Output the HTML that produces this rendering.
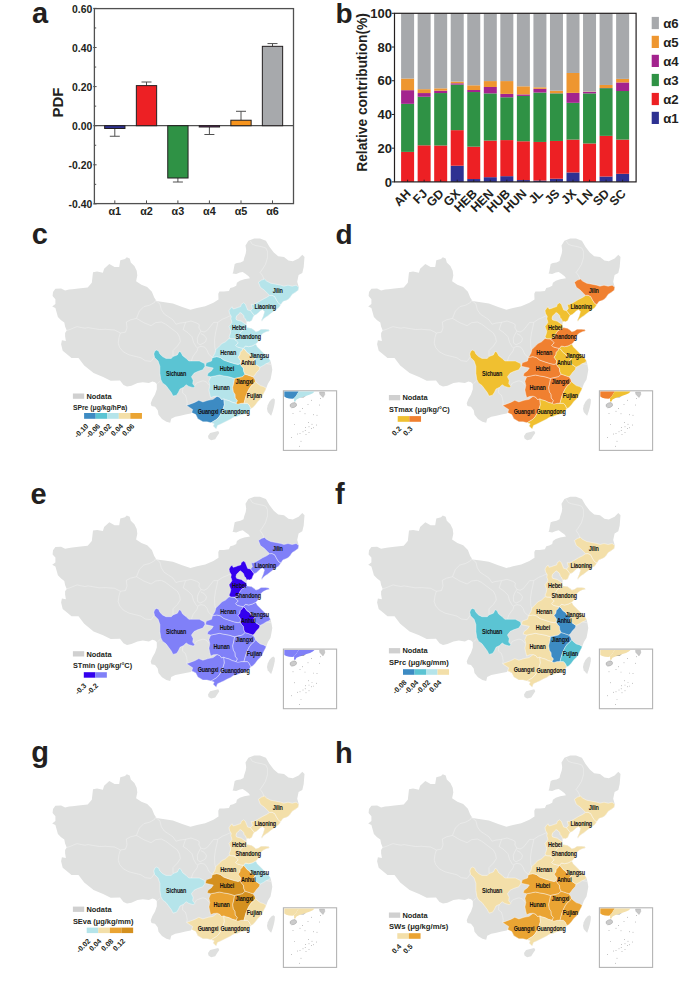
<!DOCTYPE html><html><head><meta charset="utf-8"><style>html,body{margin:0;padding:0;background:#fff;overflow:hidden;width:685px;height:997px;}svg{display:block;font-family:"Liberation Sans", sans-serif;}</style></head><body>
<svg width="685" height="997" viewBox="0 0 685 997">
<rect width="685" height="997" fill="#fff"/>
<defs>
<g id="base">
<path d="M52.6,296.1 L53.0,292.0 L55.4,288.8 L61.1,288.4 L65.1,290.4 L69.1,289.6 L72.3,289.2 L78.4,288.5 L87.7,287.4 L91.8,282.7 L93.0,272.2 L97.1,271.6 L102.9,272.8 L104.1,268.7 L109.3,264.0 L114.6,266.9 L119.2,266.9 L120.3,260.2 L125.0,259.0 L126.8,257.3 L129.7,258.4 L130.8,262.5 L134.4,266.0 L136.7,270.7 L137.3,275.4 L136.1,281.2 L141.4,284.7 L147.2,287.0 L151.9,291.7 L154.2,297.6 L156.5,301.1 L164.7,302.2 L172.9,303.4 L182.2,306.9 L190.4,309.8 L197.0,308.0 L205.2,306.2 L213.4,302.7 L218.5,299.5 L218.3,293.8 L219.4,291.6 L223.8,291.6 L228.9,290.9 L230.3,288.0 L233.2,287.2 L236.2,285.8 L236.9,282.8 L239.8,280.7 L244.2,279.2 L250.0,278.3 L248.6,276.3 L245.7,274.1 L242.7,271.9 L239.8,272.6 L236.2,274.1 L232.5,273.4 L233.2,271.9 L234.0,267.5 L234.7,263.9 L236.9,263.1 L240.5,262.4 L243.5,261.0 L244.2,258.0 L245.7,253.6 L246.2,250.2 L245.5,245.5 L248.4,240.8 L254.2,238.5 L260.0,238.5 L265.9,240.8 L269.4,246.7 L273.8,252.5 L278.2,256.2 L284.0,256.9 L288.4,260.5 L292.8,261.3 L298.6,258.4 L302.3,254.7 L304.5,256.9 L303.7,267.1 L302.3,273.0 L298.6,275.1 L297.2,281.7 L298.8,287.3 L298.2,290.3 L295.2,292.4 L292.1,294.4 L290.1,297.5 L288.0,299.5 L286.0,300.5 L282.9,301.6 L280.9,304.6 L278.8,307.7 L275.8,309.7 L271.7,312.8 L267.6,315.9 L264.5,317.9 L262.5,320.0 L262.0,321.5 L261.5,320.0 L263.2,316.0 L264.5,311.5 L262.5,309.7 L260.4,310.8 L258.4,312.8 L256.2,314.6 L254.1,315.4 L252.9,317.7 L251.8,320.6 L249.4,321.8 L247.7,321.2 L246.5,322.4 L246.5,325.9 L247.1,327.6 L251.4,328.3 L254.0,330.0 L255.8,331.8 L258.4,330.9 L261.0,329.2 L265.4,329.2 L268.9,329.6 L269.4,330.9 L266.3,331.8 L262.8,333.5 L260.2,336.2 L259.3,339.7 L257.5,342.3 L255.8,344.0 L257.4,346.9 L260.0,349.5 L262.7,352.2 L266.2,355.7 L268.8,358.3 L270.5,360.9 L271.4,364.5 L272.3,369.8 L271.4,375.0 L270.5,379.4 L267.9,383.8 L266.2,388.2 L265.5,390.0 L264.0,392.8 L262.3,396.3 L260.5,398.9 L257.9,401.5 L255.3,405.0 L252.7,407.7 L250.9,408.5 L248.3,412.0 L245.7,413.8 L241.3,414.7 L236.9,416.4 L233.4,417.3 L230.8,419.1 L227.3,420.8 L223.8,422.6 L220.3,424.3 L217.5,425.5 L216.2,428.9 L215.2,427.9 L213.1,425.9 L214.2,423.8 L211.1,422.8 L207.0,421.8 L202.9,421.8 L197.8,418.7 L195.8,414.6 L191.7,412.6 L190.7,413.6 L185.5,414.6 L180.4,415.7 L175.3,416.7 L171.2,418.7 L170.2,422.8 L166.4,421.7 L162.0,419.0 L158.5,414.7 L157.7,410.3 L155.0,406.8 L151.5,405.9 L150.7,403.3 L152.4,398.9 L155.0,394.5 L156.8,389.3 L156.8,384.0 L155.0,382.3 L152.4,381.4 L148.9,383.1 L142.8,382.3 L137.5,383.1 L131.4,385.8 L127.0,386.6 L123.5,384.9 L120.0,380.5 L110.7,380.7 L103.1,376.9 L93.6,373.1 L84.2,365.5 L78.5,358.0 L71.5,357.9 L66.7,353.9 L62.7,350.7 L61.1,344.3 L61.9,340.2 L65.9,341.0 L65.1,336.2 L65.1,333.0 L66.7,330.6 L65.1,326.6 L64.3,322.6 L61.1,320.2 L57.9,316.9 L57.0,313.7 L55.4,308.1 L52.2,306.5 L55.4,304.1 L55.4,299.3Z" fill="#dfe0df"/>
<path d="M208.0,436.1 L210.1,433.0 L214.2,432.0 L218.2,431.0 L219.3,433.0 L217.2,436.1 L215.2,439.2 L211.1,440.2 L208.5,438.6Z" fill="#dfe0df"/>
<path d="M273.4,398.3 L274.9,399.6 L274.7,403.1 L273.8,407.5 L272.5,411.9 L271.2,415.8 L270.3,415.0 L267.7,411.9 L267.0,408.8 L267.7,405.3 L269.4,401.8 L271.6,399.2Z" fill="#dfe0df"/>
<path d="M66.5,330.5 L70.0,329.5 L73.1,328.2 L77.1,326.6 L81.0,327.5 L85.0,328.2 L88.0,327.6 L99.3,329.5 L105.8,329.3 L114.6,330.0 L120.4,333.0 L125.5,332.2 L127.0,327.8 L126.3,322.0 L130.7,319.8 L136.5,318.4 L139.4,311.1 L143.8,306.7 L149.6,305.2 L154.7,302.3 L155.5,300.5" fill="none" stroke="#f8f8f8" stroke-width="0.4" stroke-linejoin="round"/>
<path d="M120.4,333.0 L119.0,337.3 L118.2,343.2 L119.7,347.6 L123.4,351.9 L129.2,354.9 L135.0,356.3 L140.9,357.8 L145.3,360.7 L151.1,361.4 L154.7,356.3 L154.6,352.0" fill="none" stroke="#f8f8f8" stroke-width="0.4" stroke-linejoin="round"/>
<path d="M136.5,318.4 L143.8,322.7 L151.1,325.7 L155.5,322.7 L161.3,322.0 L165.7,324.2 L171.5,328.6 L177.4,333.0 L179.6,337.3 L180.3,341.7 L177.4,346.1 L173.0,350.5 L173.0,356.6" fill="none" stroke="#f8f8f8" stroke-width="0.4" stroke-linejoin="round"/>
<path d="M155.5,300.5 L159.9,303.8 L161.3,309.6 L164.2,314.0 L168.6,316.9 L173.0,319.8 L175.9,324.2 L180.0,323.1 L185.6,322.3 L183.2,329.5 L188.0,332.8 L192.0,336.8 L193.6,342.4 L196.0,346.5 L197.7,348.2 L197.1,350.9 L195.1,353.5 L193.1,356.2 L192.0,359.0 L191.5,361.0" fill="none" stroke="#f8f8f8" stroke-width="0.4" stroke-linejoin="round"/>
<path d="M185.6,322.3 L191.0,321.0 L196.9,323.1 L199.3,324.7 L198.9,327.9 L200.9,331.1 L204.1,332.0 L207.3,330.3 L210.5,326.3 L213.7,322.3 L217.8,322.3 L222.6,319.1 L226.6,317.5 L229.8,315.9 L231.3,316.0" fill="none" stroke="#f8f8f8" stroke-width="0.4" stroke-linejoin="round"/>
<path d="M200.9,331.1 L198.5,335.2 L197.3,338.4 L197.7,343.2 L200.1,344.8 L203.3,343.2 L205.7,341.6 L206.5,338.4 L204.1,335.2 L200.9,333.6" fill="none" stroke="#f8f8f8" stroke-width="0.4" stroke-linejoin="round"/>
<path d="M217.8,322.3 L216.9,327.0 L215.5,333.0 L214.5,340.0 L214.8,347.0 L215.5,350.0" fill="none" stroke="#f8f8f8" stroke-width="0.4" stroke-linejoin="round"/>
<path d="M197.7,347.6 L201.0,346.3 L204.6,347.1 L207.0,350.0 L208.5,354.0 L212.4,357.5" fill="none" stroke="#f8f8f8" stroke-width="0.4" stroke-linejoin="round"/>
<path d="M195.0,385.5 L196.4,383.1 L199.7,381.8 L203.0,380.8 L206.3,381.8 L208.3,384.4 L209.5,385.5" fill="none" stroke="#f8f8f8" stroke-width="0.4" stroke-linejoin="round"/>
<path d="M183.5,387.3 L182.6,389.7 L182.6,393.0 L185.3,395.0 L186.6,398.9 L187.2,402.8 L186.6,405.4" fill="none" stroke="#f8f8f8" stroke-width="0.4" stroke-linejoin="round"/>
<path d="M160.3,381.0 L157.5,383.5" fill="none" stroke="#f8f8f8" stroke-width="0.4" stroke-linejoin="round"/>
<path d="M250.3,240.9 L252.2,244.2 L255.5,245.5 L262.1,246.8 L266.0,248.1 L267.4,251.4 L267.4,258.0 L265.4,264.5 L262.1,269.8 L260.1,272.4 L262.1,275.0 L263.4,277.7 L263.6,280.3" fill="none" stroke="#f8f8f8" stroke-width="0.4" stroke-linejoin="round"/>
<path d="M266.2,363.6 L268.5,364.0 L271.4,364.5" fill="none" stroke="#f8f8f8" stroke-width="0.4" stroke-linejoin="round"/>
</g>
<path id="p_Jilin" d="M258.4,282.2 L261.5,280.1 L264.5,279.1 L266.6,281.1 L270.7,283.2 L275.8,284.2 L280.9,285.2 L283.9,286.2 L288.0,285.2 L292.1,286.2 L296.2,285.2 L298.8,287.3 L298.2,290.3 L295.2,292.4 L292.1,294.4 L290.1,297.5 L288.0,299.5 L286.0,300.5 L282.9,301.6 L280.9,304.6 L278.8,303.5 L276.8,300.5 L274.7,296.5 L272.0,295.2 L269.6,295.4 L267.6,293.4 L264.5,290.3 L260.4,287.3Z"/>
<path id="p_Liaoning" d="M269.6,295.4 L272.0,295.2 L274.7,296.5 L276.8,300.5 L278.8,303.5 L280.9,304.6 L278.8,307.7 L275.8,309.7 L271.7,312.8 L267.6,315.9 L264.5,317.9 L262.5,320.0 L262.0,321.5 L261.5,320.0 L263.2,316.0 L264.5,311.5 L262.5,309.7 L260.4,310.8 L258.4,312.8 L256.2,314.6 L254.1,315.4 L252.4,313.1 L250.6,310.7 L252.4,308.4 L251.2,304.3 L253.3,304.6 L257.4,302.6 L262.5,299.5 L266.6,297.5Z"/>
<path id="p_Hebei" d="M229.0,310.7 L230.8,307.8 L232.2,306.9 L233.1,309.0 L235.4,308.4 L237.8,307.5 L240.7,306.6 L241.3,304.3 L243.6,302.8 L245.4,304.3 L246.5,307.2 L247.7,310.1 L250.6,310.7 L252.4,313.1 L254.1,315.4 L252.9,317.7 L251.8,320.6 L249.4,321.8 L247.7,321.2 L246.5,322.4 L246.5,325.9 L247.1,327.6 L244.2,329.4 L241.9,330.6 L240.1,332.9 L238.9,335.8 L237.2,337.6 L234.8,338.7 L230.8,338.7 L229.0,337.0 L230.2,334.1 L230.8,331.2 L229.6,328.2 L229.0,326.5 L230.8,324.1 L231.9,322.4 L231.3,320.0 L230.8,318.9 L231.3,316.5 L229.6,313.6Z"/>
<path id="p_BJTJ" d="M236.6,316.0 L238.4,314.2 L240.1,312.5 L241.9,313.6 L243.6,315.4 L244.2,317.7 L245.4,318.9 L246.5,321.2 L246.8,324.7 L245.4,324.1 L243.0,322.4 L241.3,321.2 L238.9,320.6 L236.6,320.0 L236.0,318.3Z"/>
<path id="p_Shandong" d="M247.1,327.6 L251.4,328.3 L254.0,330.0 L255.8,331.8 L258.4,330.9 L261.0,329.2 L265.4,329.2 L268.9,329.6 L269.4,330.9 L266.3,331.8 L262.8,333.5 L260.2,336.2 L259.3,339.7 L257.5,342.3 L255.8,344.0 L252.3,345.8 L248.8,346.7 L245.3,346.0 L243.4,348.4 L240.5,347.8 L237.4,347.0 L235.7,345.3 L238.3,342.7 L236.5,341.0 L234.5,339.0 L234.8,338.7 L237.2,337.6 L238.9,335.8 L240.1,332.9 L241.9,330.6 L244.2,329.4Z"/>
<path id="p_Henan" d="M234.5,339.0 L236.5,341.0 L238.3,342.7 L235.7,345.3 L237.4,347.0 L240.5,347.8 L243.4,348.4 L242.1,350.5 L240.3,352.3 L239.9,354.9 L238.1,357.1 L239.0,358.4 L240.8,361.0 L240.3,363.6 L238.1,364.4 L234.3,363.6 L229.0,361.9 L223.8,360.1 L220.3,357.5 L216.8,356.6 L212.4,357.5 L215.0,353.1 L215.9,349.6 L219.4,346.1 L222.0,343.5 L225.5,341.8 L229.0,338.5 L230.8,338.7Z"/>
<path id="p_Jiangsu" d="M243.4,348.4 L245.3,346.0 L248.8,346.7 L252.3,345.8 L255.8,344.0 L257.4,346.9 L260.0,349.5 L262.7,352.2 L266.2,355.7 L268.8,358.3 L270.5,360.9 L268.8,362.7 L266.2,363.6 L263.5,365.4 L260.0,367.2 L257.4,365.4 L254.8,363.6 L253.9,360.1 L255.7,358.4 L253.9,357.5 L251.3,356.6 L249.5,354.0 L246.9,352.3 L245.1,349.6Z"/>
<path id="p_Anhui" d="M243.4,348.4 L245.1,349.6 L246.9,352.3 L249.5,354.0 L251.3,356.6 L253.9,357.5 L255.7,358.4 L253.9,360.1 L254.8,363.6 L257.4,365.4 L260.0,367.2 L259.2,369.8 L256.5,372.4 L254.8,375.0 L253.0,376.8 L250.4,375.9 L247.8,375.0 L245.1,374.2 L243.8,371.5 L243.4,368.0 L241.6,366.3 L240.3,363.6 L240.8,361.0 L239.0,358.4 L238.1,357.1 L239.9,354.9 L240.3,352.3 L242.1,350.5Z"/>
<path id="p_Hubei" d="M212.4,357.5 L216.8,356.6 L220.3,357.5 L223.8,360.1 L229.0,361.9 L234.3,363.6 L238.1,364.4 L240.3,363.6 L241.6,366.3 L243.4,368.0 L243.8,371.5 L245.1,374.2 L242.5,376.8 L238.1,377.7 L234.6,378.5 L229.0,376.8 L223.8,375.9 L219.4,375.0 L215.0,375.9 L210.7,376.8 L207.2,375.9 L208.0,373.3 L211.5,370.7 L213.3,368.0 L205.4,366.3 L206.3,362.8 L211.5,361.0Z"/>
<path id="p_Jiangxi" d="M234.6,378.5 L238.1,377.7 L242.5,376.8 L245.1,374.2 L247.8,375.0 L250.4,375.9 L253.0,376.8 L254.8,379.4 L255.5,381.5 L253.9,383.8 L251.5,385.6 L249.4,388.5 L247.6,392.0 L246.0,396.0 L245.0,399.5 L244.0,403.3 L241.3,403.3 L237.8,404.2 L236.0,403.3 L237.5,400.7 L235.3,398.0 L235.1,394.5 L233.4,391.9 L232.7,387.5 L233.8,383.0Z"/>
<path id="p_Fujian" d="M255.5,381.5 L257.2,383.2 L260.2,385.6 L263.5,386.6 L266.2,388.2 L265.5,390.0 L264.0,392.8 L262.3,396.3 L260.5,398.9 L257.9,401.5 L255.3,405.0 L252.7,407.7 L250.9,408.5 L249.2,405.0 L247.4,403.3 L244.0,403.3 L245.0,399.5 L246.0,396.0 L247.6,392.0 L249.4,388.5 L251.5,385.6 L253.9,383.8Z"/>
<path id="p_Hunan" d="M210.7,376.8 L215.0,375.9 L219.4,375.0 L223.8,375.9 L229.0,376.8 L234.6,378.5 L233.8,383.0 L232.7,387.5 L233.4,391.9 L235.1,394.5 L235.3,398.0 L237.5,400.7 L236.0,403.3 L232.5,402.4 L229.0,400.7 L225.5,399.8 L223.8,398.9 L221.5,399.5 L219.8,397.3 L217.2,396.2 L213.5,396.5 L210.7,397.8 L209.8,394.3 L208.9,389.9 L209.8,385.5 L208.9,381.2Z"/>
<path id="p_Guangxi" d="M186.6,405.4 L190.7,403.9 L194.7,402.4 L198.8,400.3 L202.9,401.9 L208.0,400.3 L213.1,399.3 L217.2,396.2 L219.8,397.3 L221.5,399.5 L223.8,398.9 L224.4,404.7 L222.2,411.8 L219.0,417.0 L216.2,419.7 L211.1,422.8 L207.0,421.8 L202.9,421.8 L197.8,418.7 L195.8,414.6 L191.7,412.6 L192.7,409.5 L189.6,407.5Z"/>
<path id="p_Guangdong" d="M236.0,403.3 L244.0,403.3 L247.4,403.3 L249.2,405.0 L250.9,408.5 L248.3,412.0 L245.7,413.8 L241.3,414.7 L236.9,416.4 L233.4,417.3 L230.8,419.1 L227.3,420.8 L223.8,422.6 L220.3,424.3 L217.5,425.5 L216.2,428.9 L215.2,427.9 L213.1,425.9 L214.2,423.8 L211.1,422.8 L216.2,419.7 L219.0,417.0 L222.2,411.8 L224.4,404.7 L223.8,398.9 L225.5,399.8 L229.0,400.7 L232.5,402.4Z"/>
<path id="p_Sichuan" d="M154.6,351.4 L156.4,350.1 L158.6,351.0 L159.9,354.0 L162.5,356.6 L166.0,358.4 L171.3,358.4 L173.0,356.6 L177.4,354.9 L179.2,351.4 L180.9,352.3 L182.7,355.8 L186.2,358.4 L188.8,361.0 L194.0,361.0 L199.3,361.0 L204.6,363.6 L205.0,366.3 L202.8,369.8 L197.6,371.5 L194.0,373.3 L191.4,376.8 L193.2,380.3 L192.7,383.8 L194.9,386.4 L193.2,387.7 L188.8,386.4 L186.2,384.7 L183.5,387.3 L180.0,389.0 L178.3,392.6 L176.5,395.2 L173.0,396.1 L171.3,392.6 L168.6,389.0 L166.0,385.5 L162.5,382.9 L160.8,379.4 L159.9,373.3 L159.9,366.3 L158.1,361.0 L154.6,357.5 L153.8,354.0Z"/>
<g id="insetbase">
<rect x="283.4" y="390.8" width="53.2" height="59.6" fill="#fff" stroke="#b4b4b4" stroke-width="1.1"/>
<ellipse cx="293.3" cy="405.2" rx="3.4" ry="2.4" transform="rotate(-20 293.3 405.2)" fill="#cbcbcb" stroke="#999" stroke-width="0.4"/>
<path d="M319.5,392 L324.5,392 L324.8,394.5 L323,397.6 L321.5,396 L319.8,394.2Z" fill="#c8c8c8" stroke="#999" stroke-width="0.3"/>
<circle cx="311.5" cy="400.2" r="0.45" fill="#888"/>
<circle cx="308" cy="404.5" r="0.45" fill="#888"/>
<circle cx="302.6" cy="408.5" r="0.45" fill="#888"/>
<circle cx="300" cy="411.2" r="0.45" fill="#888"/>
<circle cx="305" cy="413.8" r="0.45" fill="#888"/>
<circle cx="293" cy="413.5" r="0.45" fill="#888"/>
<circle cx="317" cy="415.2" r="0.45" fill="#888"/>
<circle cx="313.5" cy="414.8" r="0.45" fill="#888"/>
<circle cx="294.5" cy="424.4" r="0.45" fill="#888"/>
<circle cx="305.5" cy="427.5" r="0.45" fill="#888"/>
<circle cx="309" cy="426.8" r="0.45" fill="#888"/>
<circle cx="311.5" cy="428.5" r="0.45" fill="#888"/>
<circle cx="313.5" cy="427.8" r="0.45" fill="#888"/>
<circle cx="316.5" cy="425" r="0.45" fill="#888"/>
<circle cx="303" cy="431.7" r="0.45" fill="#888"/>
<circle cx="300" cy="433.5" r="0.45" fill="#888"/>
<circle cx="306" cy="434.5" r="0.45" fill="#888"/>
<circle cx="297.5" cy="434" r="0.45" fill="#888"/>
<circle cx="309" cy="432.5" r="0.45" fill="#888"/>
<circle cx="291.5" cy="437.5" r="0.45" fill="#888"/>
<circle cx="301" cy="441.3" r="0.45" fill="#888"/>
<circle cx="299.5" cy="446.2" r="0.45" fill="#888"/>
<circle cx="319.5" cy="405" r="0.45" fill="#888"/>
<circle cx="320.5" cy="398.5" r="0.45" fill="#888"/>
<circle cx="308.5" cy="422.5" r="0.45" fill="#888"/>
<circle cx="305.2" cy="430.5" r="0.45" fill="#888"/>
<circle cx="312" cy="424.3" r="0.45" fill="#888"/>
</g>
</defs>
<rect x="94.4" y="8.6" width="199.1" height="195.0" fill="none" stroke="#505050" stroke-width="1.3"/>
<line x1="94.4" y1="125.7" x2="293.5" y2="125.7" stroke="#505050" stroke-width="1.2"/>
<line x1="93.2" y1="203.90" x2="96.60000000000001" y2="203.90" stroke="#505050" stroke-width="1"/>
<line x1="94.4" y1="184.35" x2="96.2" y2="184.35" stroke="#505050" stroke-width="1"/>
<line x1="93.2" y1="164.80" x2="96.60000000000001" y2="164.80" stroke="#505050" stroke-width="1"/>
<line x1="94.4" y1="145.25" x2="96.2" y2="145.25" stroke="#505050" stroke-width="1"/>
<line x1="93.2" y1="125.70" x2="96.60000000000001" y2="125.70" stroke="#505050" stroke-width="1"/>
<line x1="94.4" y1="106.15" x2="96.2" y2="106.15" stroke="#505050" stroke-width="1"/>
<line x1="93.2" y1="86.60" x2="96.60000000000001" y2="86.60" stroke="#505050" stroke-width="1"/>
<line x1="94.4" y1="67.05" x2="96.2" y2="67.05" stroke="#505050" stroke-width="1"/>
<line x1="93.2" y1="47.50" x2="96.60000000000001" y2="47.50" stroke="#505050" stroke-width="1"/>
<line x1="94.4" y1="27.95" x2="96.2" y2="27.95" stroke="#505050" stroke-width="1"/>
<line x1="93.2" y1="8.40" x2="96.60000000000001" y2="8.40" stroke="#505050" stroke-width="1"/>
<text x="92.3" y="208.20" font-size="10.4" font-weight="bold" text-anchor="end" fill="#231f20">-0.40</text>
<text x="92.3" y="169.10" font-size="10.4" font-weight="bold" text-anchor="end" fill="#231f20">-0.20</text>
<text x="92.3" y="130.00" font-size="10.4" font-weight="bold" text-anchor="end" fill="#231f20">0.00</text>
<text x="92.3" y="90.90" font-size="10.4" font-weight="bold" text-anchor="end" fill="#231f20">0.20</text>
<text x="92.3" y="51.80" font-size="10.4" font-weight="bold" text-anchor="end" fill="#231f20">0.40</text>
<text x="92.3" y="12.70" font-size="10.4" font-weight="bold" text-anchor="end" fill="#231f20">0.60</text>
<line x1="114.8" y1="203.6" x2="114.8" y2="200.4" stroke="#505050" stroke-width="1"/>
<text x="114.8" y="215.1" font-size="10.8" font-weight="bold" text-anchor="middle" fill="#231f20">α1</text>
<line x1="146.5" y1="203.6" x2="146.5" y2="200.4" stroke="#505050" stroke-width="1"/>
<text x="146.5" y="215.1" font-size="10.8" font-weight="bold" text-anchor="middle" fill="#231f20">α2</text>
<line x1="177.9" y1="203.6" x2="177.9" y2="200.4" stroke="#505050" stroke-width="1"/>
<text x="177.9" y="215.1" font-size="10.8" font-weight="bold" text-anchor="middle" fill="#231f20">α3</text>
<line x1="209.4" y1="203.6" x2="209.4" y2="200.4" stroke="#505050" stroke-width="1"/>
<text x="209.4" y="215.1" font-size="10.8" font-weight="bold" text-anchor="middle" fill="#231f20">α4</text>
<line x1="241.0" y1="203.6" x2="241.0" y2="200.4" stroke="#505050" stroke-width="1"/>
<text x="241.0" y="215.1" font-size="10.8" font-weight="bold" text-anchor="middle" fill="#231f20">α5</text>
<line x1="272.5" y1="203.6" x2="272.5" y2="200.4" stroke="#505050" stroke-width="1"/>
<text x="272.5" y="215.1" font-size="10.8" font-weight="bold" text-anchor="middle" fill="#231f20">α6</text>
<line x1="114.8" y1="128.50" x2="114.8" y2="136.26" stroke="#505050" stroke-width="1"/>
<line x1="109.8" y1="136.26" x2="119.8" y2="136.26" stroke="#505050" stroke-width="1"/>
<rect x="104.65" y="125.70" width="20.3" height="2.80" fill="#2e3192" stroke="#231f20" stroke-width="1"/>
<line x1="146.5" y1="85.62" x2="146.5" y2="82.01" stroke="#505050" stroke-width="1"/>
<line x1="141.5" y1="82.01" x2="151.5" y2="82.01" stroke="#505050" stroke-width="1"/>
<rect x="136.35" y="85.62" width="20.3" height="40.08" fill="#ed2024" stroke="#231f20" stroke-width="1"/>
<line x1="177.9" y1="178.00" x2="177.9" y2="182.00" stroke="#505050" stroke-width="1"/>
<line x1="172.9" y1="182.00" x2="182.9" y2="182.00" stroke="#505050" stroke-width="1"/>
<rect x="167.75" y="125.70" width="20.3" height="52.30" fill="#2f9245" stroke="#231f20" stroke-width="1"/>
<line x1="209.4" y1="126.99" x2="209.4" y2="134.50" stroke="#505050" stroke-width="1"/>
<line x1="204.4" y1="134.50" x2="214.4" y2="134.50" stroke="#505050" stroke-width="1"/>
<rect x="199.25" y="125.70" width="20.3" height="1.29" fill="#7c2a84" stroke="#231f20" stroke-width="1"/>
<line x1="241.0" y1="120.23" x2="241.0" y2="111.29" stroke="#505050" stroke-width="1"/>
<line x1="236.0" y1="111.29" x2="246.0" y2="111.29" stroke="#505050" stroke-width="1"/>
<rect x="230.85" y="120.23" width="20.3" height="5.47" fill="#f7941d" stroke="#231f20" stroke-width="1"/>
<line x1="272.5" y1="46.33" x2="272.5" y2="43.59" stroke="#505050" stroke-width="1"/>
<line x1="267.5" y1="43.59" x2="277.5" y2="43.59" stroke="#505050" stroke-width="1"/>
<rect x="262.35" y="46.33" width="20.3" height="79.37" fill="#a7a9ac" stroke="#231f20" stroke-width="1"/>
<text transform="translate(63.2,102.5) rotate(-90)" font-size="15" font-weight="bold" text-anchor="middle" fill="#231f20">PDF</text>
<text x="32.0" y="23.3" font-size="29" font-weight="bold" fill="#231f20">a</text>
<rect x="401.10" y="151.89" width="13.0" height="30.01" fill="#ed2024"/>
<rect x="401.10" y="103.84" width="13.0" height="48.05" fill="#2f9245"/>
<rect x="401.10" y="90.18" width="13.0" height="13.66" fill="#a3238e"/>
<rect x="401.10" y="78.55" width="13.0" height="11.63" fill="#ee9630"/>
<rect x="401.10" y="13.30" width="13.0" height="65.25" fill="#a7a9ac"/>
<line x1="407.60" y1="181.9" x2="407.60" y2="179.70000000000002" stroke="#231f20" stroke-width="0.9"/>
<text transform="translate(411.60,194.3) rotate(-45)" font-size="12.4" font-weight="bold" text-anchor="end" fill="#231f20">AH</text>
<rect x="417.64" y="145.31" width="13.0" height="36.59" fill="#ed2024"/>
<rect x="417.64" y="96.76" width="13.0" height="48.56" fill="#2f9245"/>
<rect x="417.64" y="93.05" width="13.0" height="3.71" fill="#a3238e"/>
<rect x="417.64" y="89.17" width="13.0" height="3.88" fill="#ee9630"/>
<rect x="417.64" y="13.30" width="13.0" height="75.87" fill="#a7a9ac"/>
<line x1="424.14" y1="181.9" x2="424.14" y2="179.70000000000002" stroke="#231f20" stroke-width="0.9"/>
<text transform="translate(428.14,194.3) rotate(-45)" font-size="12.4" font-weight="bold" text-anchor="end" fill="#231f20">FJ</text>
<rect x="434.18" y="145.48" width="13.0" height="36.42" fill="#ed2024"/>
<rect x="434.18" y="93.05" width="13.0" height="52.43" fill="#2f9245"/>
<rect x="434.18" y="90.69" width="13.0" height="2.36" fill="#a3238e"/>
<rect x="434.18" y="88.33" width="13.0" height="2.36" fill="#ee9630"/>
<rect x="434.18" y="13.30" width="13.0" height="75.03" fill="#a7a9ac"/>
<line x1="440.68" y1="181.9" x2="440.68" y2="179.70000000000002" stroke="#231f20" stroke-width="0.9"/>
<text transform="translate(444.68,194.3) rotate(-45)" font-size="12.4" font-weight="bold" text-anchor="end" fill="#231f20">GD</text>
<rect x="450.72" y="165.71" width="13.0" height="16.19" fill="#2e3192"/>
<rect x="450.72" y="130.14" width="13.0" height="35.57" fill="#ed2024"/>
<rect x="450.72" y="84.62" width="13.0" height="45.52" fill="#2f9245"/>
<rect x="450.72" y="83.27" width="13.0" height="1.35" fill="#a3238e"/>
<rect x="450.72" y="81.58" width="13.0" height="1.69" fill="#ee9630"/>
<rect x="450.72" y="13.30" width="13.0" height="68.28" fill="#a7a9ac"/>
<line x1="457.22" y1="181.9" x2="457.22" y2="179.70000000000002" stroke="#231f20" stroke-width="0.9"/>
<text transform="translate(461.22,194.3) rotate(-45)" font-size="12.4" font-weight="bold" text-anchor="end" fill="#231f20">GX</text>
<rect x="467.26" y="179.03" width="13.0" height="2.87" fill="#2e3192"/>
<rect x="467.26" y="146.66" width="13.0" height="32.37" fill="#ed2024"/>
<rect x="467.26" y="92.04" width="13.0" height="54.63" fill="#2f9245"/>
<rect x="467.26" y="90.01" width="13.0" height="2.02" fill="#a3238e"/>
<rect x="467.26" y="85.29" width="13.0" height="4.72" fill="#ee9630"/>
<rect x="467.26" y="13.30" width="13.0" height="71.99" fill="#a7a9ac"/>
<line x1="473.76" y1="181.9" x2="473.76" y2="179.70000000000002" stroke="#231f20" stroke-width="0.9"/>
<text transform="translate(477.76,194.3) rotate(-45)" font-size="12.4" font-weight="bold" text-anchor="end" fill="#231f20">HEB</text>
<rect x="483.80" y="177.18" width="13.0" height="4.72" fill="#2e3192"/>
<rect x="483.80" y="140.59" width="13.0" height="36.59" fill="#ed2024"/>
<rect x="483.80" y="93.39" width="13.0" height="47.21" fill="#2f9245"/>
<rect x="483.80" y="86.98" width="13.0" height="6.41" fill="#a3238e"/>
<rect x="483.80" y="81.08" width="13.0" height="5.90" fill="#ee9630"/>
<rect x="483.80" y="13.30" width="13.0" height="67.78" fill="#a7a9ac"/>
<line x1="490.30" y1="181.9" x2="490.30" y2="179.70000000000002" stroke="#231f20" stroke-width="0.9"/>
<text transform="translate(494.30,194.3) rotate(-45)" font-size="12.4" font-weight="bold" text-anchor="end" fill="#231f20">HEN</text>
<rect x="500.34" y="176.17" width="13.0" height="5.73" fill="#2e3192"/>
<rect x="500.34" y="140.09" width="13.0" height="36.08" fill="#ed2024"/>
<rect x="500.34" y="97.26" width="13.0" height="42.82" fill="#2f9245"/>
<rect x="500.34" y="93.89" width="13.0" height="3.37" fill="#a3238e"/>
<rect x="500.34" y="81.08" width="13.0" height="12.81" fill="#ee9630"/>
<rect x="500.34" y="13.30" width="13.0" height="67.78" fill="#a7a9ac"/>
<line x1="506.84" y1="181.9" x2="506.84" y2="179.70000000000002" stroke="#231f20" stroke-width="0.9"/>
<text transform="translate(510.84,194.3) rotate(-45)" font-size="12.4" font-weight="bold" text-anchor="end" fill="#231f20">HUB</text>
<rect x="516.88" y="180.05" width="13.0" height="1.85" fill="#2e3192"/>
<rect x="516.88" y="141.27" width="13.0" height="38.78" fill="#ed2024"/>
<rect x="516.88" y="95.91" width="13.0" height="45.35" fill="#2f9245"/>
<rect x="516.88" y="94.40" width="13.0" height="1.52" fill="#a3238e"/>
<rect x="516.88" y="86.30" width="13.0" height="8.09" fill="#ee9630"/>
<rect x="516.88" y="13.30" width="13.0" height="73.00" fill="#a7a9ac"/>
<line x1="523.38" y1="181.9" x2="523.38" y2="179.70000000000002" stroke="#231f20" stroke-width="0.9"/>
<text transform="translate(527.38,194.3) rotate(-45)" font-size="12.4" font-weight="bold" text-anchor="end" fill="#231f20">HUN</text>
<rect x="533.42" y="180.55" width="13.0" height="1.35" fill="#2e3192"/>
<rect x="533.42" y="141.94" width="13.0" height="38.61" fill="#ed2024"/>
<rect x="533.42" y="92.54" width="13.0" height="49.40" fill="#2f9245"/>
<rect x="533.42" y="88.83" width="13.0" height="3.71" fill="#a3238e"/>
<rect x="533.42" y="87.32" width="13.0" height="1.52" fill="#ee9630"/>
<rect x="533.42" y="13.30" width="13.0" height="74.02" fill="#a7a9ac"/>
<line x1="539.92" y1="181.9" x2="539.92" y2="179.70000000000002" stroke="#231f20" stroke-width="0.9"/>
<text transform="translate(543.92,194.3) rotate(-45)" font-size="12.4" font-weight="bold" text-anchor="end" fill="#231f20">JL</text>
<rect x="549.96" y="178.70" width="13.0" height="3.20" fill="#2e3192"/>
<rect x="549.96" y="140.93" width="13.0" height="37.77" fill="#ed2024"/>
<rect x="549.96" y="93.39" width="13.0" height="47.55" fill="#2f9245"/>
<rect x="549.96" y="93.22" width="13.0" height="0.17" fill="#a3238e"/>
<rect x="549.96" y="90.69" width="13.0" height="2.53" fill="#ee9630"/>
<rect x="549.96" y="13.30" width="13.0" height="77.39" fill="#a7a9ac"/>
<line x1="556.46" y1="181.9" x2="556.46" y2="179.70000000000002" stroke="#231f20" stroke-width="0.9"/>
<text transform="translate(560.46,194.3) rotate(-45)" font-size="12.4" font-weight="bold" text-anchor="end" fill="#231f20">JS</text>
<rect x="566.50" y="172.46" width="13.0" height="9.44" fill="#2e3192"/>
<rect x="566.50" y="139.58" width="13.0" height="32.88" fill="#ed2024"/>
<rect x="566.50" y="102.83" width="13.0" height="36.75" fill="#2f9245"/>
<rect x="566.50" y="92.88" width="13.0" height="9.95" fill="#a3238e"/>
<rect x="566.50" y="72.98" width="13.0" height="19.89" fill="#ee9630"/>
<rect x="566.50" y="13.30" width="13.0" height="59.68" fill="#a7a9ac"/>
<line x1="573.00" y1="181.9" x2="573.00" y2="179.70000000000002" stroke="#231f20" stroke-width="0.9"/>
<text transform="translate(577.00,194.3) rotate(-45)" font-size="12.4" font-weight="bold" text-anchor="end" fill="#231f20">JX</text>
<rect x="583.04" y="143.46" width="13.0" height="38.44" fill="#ed2024"/>
<rect x="583.04" y="93.39" width="13.0" height="50.07" fill="#2f9245"/>
<rect x="583.04" y="91.87" width="13.0" height="1.52" fill="#a3238e"/>
<rect x="583.04" y="91.53" width="13.0" height="0.34" fill="#ee9630"/>
<rect x="583.04" y="13.30" width="13.0" height="78.23" fill="#a7a9ac"/>
<line x1="589.54" y1="181.9" x2="589.54" y2="179.70000000000002" stroke="#231f20" stroke-width="0.9"/>
<text transform="translate(593.54,194.3) rotate(-45)" font-size="12.4" font-weight="bold" text-anchor="end" fill="#231f20">LN</text>
<rect x="599.58" y="176.50" width="13.0" height="5.40" fill="#2e3192"/>
<rect x="599.58" y="135.87" width="13.0" height="40.63" fill="#ed2024"/>
<rect x="599.58" y="88.16" width="13.0" height="47.71" fill="#2f9245"/>
<rect x="599.58" y="87.99" width="13.0" height="0.17" fill="#a3238e"/>
<rect x="599.58" y="84.96" width="13.0" height="3.03" fill="#ee9630"/>
<rect x="599.58" y="13.30" width="13.0" height="71.66" fill="#a7a9ac"/>
<line x1="606.08" y1="181.9" x2="606.08" y2="179.70000000000002" stroke="#231f20" stroke-width="0.9"/>
<text transform="translate(610.08,194.3) rotate(-45)" font-size="12.4" font-weight="bold" text-anchor="end" fill="#231f20">SD</text>
<rect x="616.12" y="173.81" width="13.0" height="8.09" fill="#2e3192"/>
<rect x="616.12" y="139.58" width="13.0" height="34.23" fill="#ed2024"/>
<rect x="616.12" y="91.02" width="13.0" height="48.56" fill="#2f9245"/>
<rect x="616.12" y="82.43" width="13.0" height="8.60" fill="#a3238e"/>
<rect x="616.12" y="78.89" width="13.0" height="3.54" fill="#ee9630"/>
<rect x="616.12" y="13.30" width="13.0" height="65.59" fill="#a7a9ac"/>
<line x1="622.62" y1="181.9" x2="622.62" y2="179.70000000000002" stroke="#231f20" stroke-width="0.9"/>
<text transform="translate(626.62,194.3) rotate(-45)" font-size="12.4" font-weight="bold" text-anchor="end" fill="#231f20">SC</text>
<rect x="394.5" y="13.3" width="241.60000000000002" height="168.6" fill="none" stroke="#231f20" stroke-width="1.2"/>
<line x1="391.7" y1="181.90" x2="394.5" y2="181.90" stroke="#231f20" stroke-width="1"/>
<text x="392" y="186.60" font-size="13" font-weight="bold" text-anchor="end" fill="#231f20">0</text>
<line x1="391.7" y1="148.18" x2="394.5" y2="148.18" stroke="#231f20" stroke-width="1"/>
<text x="392" y="152.88" font-size="13" font-weight="bold" text-anchor="end" fill="#231f20">20</text>
<line x1="391.7" y1="114.46" x2="394.5" y2="114.46" stroke="#231f20" stroke-width="1"/>
<text x="392" y="119.16" font-size="13" font-weight="bold" text-anchor="end" fill="#231f20">40</text>
<line x1="391.7" y1="80.74" x2="394.5" y2="80.74" stroke="#231f20" stroke-width="1"/>
<text x="392" y="85.44" font-size="13" font-weight="bold" text-anchor="end" fill="#231f20">60</text>
<line x1="391.7" y1="47.02" x2="394.5" y2="47.02" stroke="#231f20" stroke-width="1"/>
<text x="392" y="51.72" font-size="13" font-weight="bold" text-anchor="end" fill="#231f20">80</text>
<line x1="391.7" y1="13.30" x2="394.5" y2="13.30" stroke="#231f20" stroke-width="1"/>
<text x="392" y="18.00" font-size="13" font-weight="bold" text-anchor="end" fill="#231f20">100</text>
<text transform="translate(367.2,92.5) rotate(-90)" font-size="13.8" font-weight="bold" text-anchor="middle" fill="#231f20">Relative contribution(%)</text>
<rect x="651.7" y="16.9" width="7.2" height="12.2" fill="#a7a9ac"/>
<text x="663.2" y="27.70" font-size="13.2" font-weight="bold" fill="#231f20">α6</text>
<rect x="651.7" y="35.8" width="7.2" height="12.2" fill="#ee9630"/>
<text x="663.2" y="46.60" font-size="13.2" font-weight="bold" fill="#231f20">α5</text>
<rect x="651.7" y="54.8" width="7.2" height="12.2" fill="#a3238e"/>
<text x="663.2" y="65.60" font-size="13.2" font-weight="bold" fill="#231f20">α4</text>
<rect x="651.7" y="73.9" width="7.2" height="12.2" fill="#2f9245"/>
<text x="663.2" y="84.70" font-size="13.2" font-weight="bold" fill="#231f20">α3</text>
<rect x="651.7" y="92.9" width="7.2" height="12.2" fill="#ed2024"/>
<text x="663.2" y="103.70" font-size="13.2" font-weight="bold" fill="#231f20">α2</text>
<rect x="651.7" y="111.8" width="7.2" height="12.2" fill="#2e3192"/>
<text x="663.2" y="122.60" font-size="13.2" font-weight="bold" fill="#231f20">α1</text>
<text x="335.6" y="22.8" font-size="28" font-weight="bold" fill="#231f20">b</text>
<g transform="translate(0,0)">
<use href="#base"/>
<use href="#p_Sichuan" fill="#5bc4d3" stroke="#fff" stroke-width="0.4" stroke-linejoin="round"/>
<use href="#p_Guangxi" fill="#3d8bc3" stroke="#fff" stroke-width="0.4" stroke-linejoin="round"/>
<use href="#p_Hunan" fill="#b5e4ea" stroke="#fff" stroke-width="0.4" stroke-linejoin="round"/>
<use href="#p_Guangdong" fill="#b5e4ea" stroke="#fff" stroke-width="0.4" stroke-linejoin="round"/>
<use href="#p_Hubei" fill="#5bc4d3" stroke="#fff" stroke-width="0.4" stroke-linejoin="round"/>
<use href="#p_Henan" fill="#b5e4ea" stroke="#fff" stroke-width="0.4" stroke-linejoin="round"/>
<use href="#p_Jiangxi" fill="#eaa433" stroke="#fff" stroke-width="0.4" stroke-linejoin="round"/>
<use href="#p_Fujian" fill="#f3dfa9" stroke="#fff" stroke-width="0.4" stroke-linejoin="round"/>
<use href="#p_Anhui" fill="#f3dfa9" stroke="#fff" stroke-width="0.4" stroke-linejoin="round"/>
<use href="#p_Jiangsu" fill="#b5e4ea" stroke="#fff" stroke-width="0.4" stroke-linejoin="round"/>
<use href="#p_Shandong" fill="#b5e4ea" stroke="#fff" stroke-width="0.4" stroke-linejoin="round"/>
<use href="#p_Hebei" fill="#b5e4ea" stroke="#fff" stroke-width="0.4" stroke-linejoin="round"/>
<use href="#p_Liaoning" fill="#b5e4ea" stroke="#fff" stroke-width="0.4" stroke-linejoin="round"/>
<use href="#p_Jilin" fill="#b5e4ea" stroke="#fff" stroke-width="0.4" stroke-linejoin="round"/>
<use href="#p_BJTJ" fill="#dfe0df" stroke="#fff" stroke-width="0.45"/>
<text transform="translate(277.7,292.9) scale(1,1.16)" font-size="5.5" font-weight="bold" letter-spacing="-0.18" text-anchor="middle" fill="#111">Jilin</text>
<text transform="translate(265.3,309.3) scale(1,1.16)" font-size="5.5" font-weight="bold" letter-spacing="-0.18" text-anchor="middle" fill="#111">Liaoning</text>
<text transform="translate(239,329.5) scale(1,1.16)" font-size="5.5" font-weight="bold" letter-spacing="-0.18" text-anchor="middle" fill="#111">Hebei</text>
<text transform="translate(248.2,339.4) scale(1,1.16)" font-size="5.5" font-weight="bold" letter-spacing="-0.18" text-anchor="middle" fill="#111">Shandong</text>
<text transform="translate(228.2,355.2) scale(1,1.16)" font-size="5.5" font-weight="bold" letter-spacing="-0.18" text-anchor="middle" fill="#111">Henan</text>
<text transform="translate(259.1,358.2) scale(1,1.16)" font-size="5.5" font-weight="bold" letter-spacing="-0.18" text-anchor="middle" fill="#111">Jiangsu</text>
<text transform="translate(248.2,364.9) scale(1,1.16)" font-size="5.5" font-weight="bold" letter-spacing="-0.18" text-anchor="middle" fill="#111">Anhui</text>
<text transform="translate(226.9,371.3) scale(1,1.16)" font-size="5.5" font-weight="bold" letter-spacing="-0.18" text-anchor="middle" fill="#111">Hubei</text>
<text transform="translate(176.1,375.6) scale(1,1.16)" font-size="5.5" font-weight="bold" letter-spacing="-0.18" text-anchor="middle" fill="#111">Sichuan</text>
<text transform="translate(244.3,383.9) scale(1,1.16)" font-size="5.5" font-weight="bold" letter-spacing="-0.18" text-anchor="middle" fill="#111">Jiangxi</text>
<text transform="translate(221.6,390.3) scale(1,1.16)" font-size="5.5" font-weight="bold" letter-spacing="-0.18" text-anchor="middle" fill="#111">Hunan</text>
<text transform="translate(254.4,397.7) scale(1,1.16)" font-size="5.5" font-weight="bold" letter-spacing="-0.18" text-anchor="middle" fill="#111">Fujian</text>
<text transform="translate(208,413.5) scale(1,1.16)" font-size="5.5" font-weight="bold" letter-spacing="-0.18" text-anchor="middle" fill="#111">Guangxi</text>
<text transform="translate(235.1,414.4) scale(1,1.16)" font-size="5.5" font-weight="bold" letter-spacing="-0.18" text-anchor="middle" fill="#111">Guangdong</text>
<use href="#insetbase"/>
<path d="M284.3,391.6 L298.6,391.6 L296,396 L293.9,398.2 L292.5,398.8 L289,398.5 L286.2,397.8 L284.3,396.6Z" fill="#3d8bc3"/>
<path d="M298.6,391.6 L314.5,391.6 L312.8,393.2 L310,394.6 L306.5,395.7 L303,397.1 L299.5,398.1 L296.5,399.4 L295.2,401.8 L293.9,401.3 L294.2,399.2 L293.9,398.2 L296,396Z" fill="#b5e4ea"/>
<path d="M300,397.6 L303,397 L306,395.9 L303.5,397.6Z" fill="#666" opacity="0.6"/>
</g>
<rect x="72.9" y="393.5" width="11.3" height="5.3" fill="#d0d0d0"/>
<text x="86.5" y="398.8" font-size="7.4" font-weight="bold" fill="#231f20">Nodata</text>
<text x="72.9" y="409.7" font-size="6.9" font-weight="bold" textLength="54.5" lengthAdjust="spacingAndGlyphs" fill="#231f20">SPre (μg/kg/hPa)</text>
<rect x="84.10" y="413.0" width="11.61" height="5.80" fill="#3d8bc3"/>
<rect x="95.66" y="413.0" width="11.61" height="5.80" fill="#5bc4d3"/>
<rect x="107.22" y="413.0" width="11.61" height="5.80" fill="#b5e4ea"/>
<rect x="118.78" y="413.0" width="11.61" height="5.80" fill="#f3dfa9"/>
<rect x="130.34" y="413.0" width="11.61" height="5.80" fill="#eaa433"/>
<text transform="translate(88.8,426.6) rotate(-45)" font-size="7.2" font-weight="bold" text-anchor="end" fill="#231f20">-0.10</text>
<text transform="translate(100.6,426.6) rotate(-45)" font-size="7.2" font-weight="bold" text-anchor="end" fill="#231f20">-0.06</text>
<text transform="translate(111.8,426.6) rotate(-45)" font-size="7.2" font-weight="bold" text-anchor="end" fill="#231f20">-0.02</text>
<text transform="translate(123.6,426.6) rotate(-45)" font-size="7.2" font-weight="bold" text-anchor="end" fill="#231f20">0.04</text>
<text transform="translate(134.8,426.6) rotate(-45)" font-size="7.2" font-weight="bold" text-anchor="end" fill="#231f20">0.06</text>
<text x="31.8" y="244.4" font-size="29" font-weight="bold" fill="#231f20">c</text>
<g transform="translate(316,0)">
<use href="#base"/>
<use href="#p_Sichuan" fill="#f0c030" stroke="#fff" stroke-width="0.4" stroke-linejoin="round"/>
<use href="#p_Guangxi" fill="#f08030" stroke="#fff" stroke-width="0.4" stroke-linejoin="round"/>
<use href="#p_Hunan" fill="#f08030" stroke="#fff" stroke-width="0.4" stroke-linejoin="round"/>
<use href="#p_Guangdong" fill="#f0c030" stroke="#fff" stroke-width="0.4" stroke-linejoin="round"/>
<use href="#p_Hubei" fill="#f08030" stroke="#fff" stroke-width="0.4" stroke-linejoin="round"/>
<use href="#p_Henan" fill="#f08030" stroke="#fff" stroke-width="0.4" stroke-linejoin="round"/>
<use href="#p_Jiangxi" fill="#f08030" stroke="#fff" stroke-width="0.4" stroke-linejoin="round"/>
<use href="#p_Fujian" fill="#f0c030" stroke="#fff" stroke-width="0.4" stroke-linejoin="round"/>
<use href="#p_Anhui" fill="#f0c030" stroke="#fff" stroke-width="0.4" stroke-linejoin="round"/>
<use href="#p_Jiangsu" fill="#f0c030" stroke="#fff" stroke-width="0.4" stroke-linejoin="round"/>
<use href="#p_Shandong" fill="#f08030" stroke="#fff" stroke-width="0.4" stroke-linejoin="round"/>
<use href="#p_Hebei" fill="#f0c030" stroke="#fff" stroke-width="0.4" stroke-linejoin="round"/>
<use href="#p_Liaoning" fill="#f0c030" stroke="#fff" stroke-width="0.4" stroke-linejoin="round"/>
<use href="#p_Jilin" fill="#f08030" stroke="#fff" stroke-width="0.4" stroke-linejoin="round"/>
<use href="#p_BJTJ" fill="#dfe0df" stroke="#fff" stroke-width="0.45"/>
<text transform="translate(277.7,292.9) scale(1,1.16)" font-size="5.5" font-weight="bold" letter-spacing="-0.18" text-anchor="middle" fill="#111">Jilin</text>
<text transform="translate(265.3,309.3) scale(1,1.16)" font-size="5.5" font-weight="bold" letter-spacing="-0.18" text-anchor="middle" fill="#111">Liaoning</text>
<text transform="translate(239,329.5) scale(1,1.16)" font-size="5.5" font-weight="bold" letter-spacing="-0.18" text-anchor="middle" fill="#111">Hebei</text>
<text transform="translate(248.2,339.4) scale(1,1.16)" font-size="5.5" font-weight="bold" letter-spacing="-0.18" text-anchor="middle" fill="#111">Shandong</text>
<text transform="translate(228.2,355.2) scale(1,1.16)" font-size="5.5" font-weight="bold" letter-spacing="-0.18" text-anchor="middle" fill="#111">Henan</text>
<text transform="translate(259.1,358.2) scale(1,1.16)" font-size="5.5" font-weight="bold" letter-spacing="-0.18" text-anchor="middle" fill="#111">Jiangsu</text>
<text transform="translate(248.2,364.9) scale(1,1.16)" font-size="5.5" font-weight="bold" letter-spacing="-0.18" text-anchor="middle" fill="#111">Anhui</text>
<text transform="translate(226.9,371.3) scale(1,1.16)" font-size="5.5" font-weight="bold" letter-spacing="-0.18" text-anchor="middle" fill="#111">Hubei</text>
<text transform="translate(176.1,375.6) scale(1,1.16)" font-size="5.5" font-weight="bold" letter-spacing="-0.18" text-anchor="middle" fill="#111">Sichuan</text>
<text transform="translate(244.3,383.9) scale(1,1.16)" font-size="5.5" font-weight="bold" letter-spacing="-0.18" text-anchor="middle" fill="#111">Jiangxi</text>
<text transform="translate(221.6,390.3) scale(1,1.16)" font-size="5.5" font-weight="bold" letter-spacing="-0.18" text-anchor="middle" fill="#111">Hunan</text>
<text transform="translate(254.4,397.7) scale(1,1.16)" font-size="5.5" font-weight="bold" letter-spacing="-0.18" text-anchor="middle" fill="#111">Fujian</text>
<text transform="translate(208,413.5) scale(1,1.16)" font-size="5.5" font-weight="bold" letter-spacing="-0.18" text-anchor="middle" fill="#111">Guangxi</text>
<text transform="translate(235.1,414.4) scale(1,1.16)" font-size="5.5" font-weight="bold" letter-spacing="-0.18" text-anchor="middle" fill="#111">Guangdong</text>
<use href="#insetbase"/>
<path d="M284.3,391.6 L298.6,391.6 L296,396 L293.9,398.2 L292.5,398.8 L289,398.5 L286.2,397.8 L284.3,396.6Z" fill="#f08030"/>
<path d="M298.6,391.6 L314.5,391.6 L312.8,393.2 L310,394.6 L306.5,395.7 L303,397.1 L299.5,398.1 L296.5,399.4 L295.2,401.8 L293.9,401.3 L294.2,399.2 L293.9,398.2 L296,396Z" fill="#f0c030"/>
<path d="M300,397.6 L303,397 L306,395.9 L303.5,397.6Z" fill="#666" opacity="0.6"/>
</g>
<rect x="388.9" y="395.0" width="11.3" height="5.3" fill="#d0d0d0"/>
<text x="402.5" y="400.3" font-size="7.4" font-weight="bold" fill="#231f20">Nodata</text>
<text x="388.9" y="411.9" font-size="6.9" font-weight="bold" textLength="60.8" lengthAdjust="spacingAndGlyphs" fill="#231f20">STmax (μg/kg/°C)</text>
<rect x="397.70" y="416.1" width="11.70" height="5.70" fill="#f0c030"/>
<rect x="409.35" y="416.1" width="11.70" height="5.70" fill="#f08030"/>
<text transform="translate(401.8,429.2) rotate(-45)" font-size="7.2" font-weight="bold" text-anchor="end" fill="#231f20">0.2</text>
<text transform="translate(413.0,429.2) rotate(-45)" font-size="7.2" font-weight="bold" text-anchor="end" fill="#231f20">0.3</text>
<text x="335.4" y="244.2" font-size="28" font-weight="bold" fill="#231f20">d</text>
<g transform="translate(0,258.3)">
<use href="#base"/>
<use href="#p_Sichuan" fill="#8080f8" stroke="#fff" stroke-width="0.4" stroke-linejoin="round"/>
<use href="#p_Guangxi" fill="#8080f8" stroke="#fff" stroke-width="0.4" stroke-linejoin="round"/>
<use href="#p_Hunan" fill="#8080f8" stroke="#fff" stroke-width="0.4" stroke-linejoin="round"/>
<use href="#p_Guangdong" fill="#8080f8" stroke="#fff" stroke-width="0.4" stroke-linejoin="round"/>
<use href="#p_Hubei" fill="#8080f8" stroke="#fff" stroke-width="0.4" stroke-linejoin="round"/>
<use href="#p_Henan" fill="#8080f8" stroke="#fff" stroke-width="0.4" stroke-linejoin="round"/>
<use href="#p_Jiangxi" fill="#8080f8" stroke="#fff" stroke-width="0.4" stroke-linejoin="round"/>
<use href="#p_Fujian" fill="#8080f8" stroke="#fff" stroke-width="0.4" stroke-linejoin="round"/>
<use href="#p_Anhui" fill="#3300ee" stroke="#fff" stroke-width="0.4" stroke-linejoin="round"/>
<use href="#p_Jiangsu" fill="#8080f8" stroke="#fff" stroke-width="0.4" stroke-linejoin="round"/>
<use href="#p_Shandong" fill="#8080f8" stroke="#fff" stroke-width="0.4" stroke-linejoin="round"/>
<use href="#p_Hebei" fill="#3300ee" stroke="#fff" stroke-width="0.4" stroke-linejoin="round"/>
<use href="#p_Liaoning" fill="#8080f8" stroke="#fff" stroke-width="0.4" stroke-linejoin="round"/>
<use href="#p_Jilin" fill="#8080f8" stroke="#fff" stroke-width="0.4" stroke-linejoin="round"/>
<use href="#p_BJTJ" fill="#dfe0df" stroke="#fff" stroke-width="0.45"/>
<text transform="translate(277.7,292.9) scale(1,1.16)" font-size="5.5" font-weight="bold" letter-spacing="-0.18" text-anchor="middle" fill="#111">Jilin</text>
<text transform="translate(265.3,309.3) scale(1,1.16)" font-size="5.5" font-weight="bold" letter-spacing="-0.18" text-anchor="middle" fill="#111">Liaoning</text>
<text transform="translate(239,329.5) scale(1,1.16)" font-size="5.5" font-weight="bold" letter-spacing="-0.18" text-anchor="middle" fill="#111">Hebei</text>
<text transform="translate(248.2,339.4) scale(1,1.16)" font-size="5.5" font-weight="bold" letter-spacing="-0.18" text-anchor="middle" fill="#111">Shandong</text>
<text transform="translate(228.2,355.2) scale(1,1.16)" font-size="5.5" font-weight="bold" letter-spacing="-0.18" text-anchor="middle" fill="#111">Henan</text>
<text transform="translate(259.1,358.2) scale(1,1.16)" font-size="5.5" font-weight="bold" letter-spacing="-0.18" text-anchor="middle" fill="#111">Jiangsu</text>
<text transform="translate(248.2,364.9) scale(1,1.16)" font-size="5.5" font-weight="bold" letter-spacing="-0.18" text-anchor="middle" fill="#111">Anhui</text>
<text transform="translate(226.9,371.3) scale(1,1.16)" font-size="5.5" font-weight="bold" letter-spacing="-0.18" text-anchor="middle" fill="#111">Hubei</text>
<text transform="translate(176.1,375.6) scale(1,1.16)" font-size="5.5" font-weight="bold" letter-spacing="-0.18" text-anchor="middle" fill="#111">Sichuan</text>
<text transform="translate(244.3,383.9) scale(1,1.16)" font-size="5.5" font-weight="bold" letter-spacing="-0.18" text-anchor="middle" fill="#111">Jiangxi</text>
<text transform="translate(221.6,390.3) scale(1,1.16)" font-size="5.5" font-weight="bold" letter-spacing="-0.18" text-anchor="middle" fill="#111">Hunan</text>
<text transform="translate(254.4,397.7) scale(1,1.16)" font-size="5.5" font-weight="bold" letter-spacing="-0.18" text-anchor="middle" fill="#111">Fujian</text>
<text transform="translate(208,413.5) scale(1,1.16)" font-size="5.5" font-weight="bold" letter-spacing="-0.18" text-anchor="middle" fill="#111">Guangxi</text>
<text transform="translate(235.1,414.4) scale(1,1.16)" font-size="5.5" font-weight="bold" letter-spacing="-0.18" text-anchor="middle" fill="#111">Guangdong</text>
<use href="#insetbase"/>
<path d="M284.3,391.6 L298.6,391.6 L296,396 L293.9,398.2 L292.5,398.8 L289,398.5 L286.2,397.8 L284.3,396.6Z" fill="#8080f8"/>
<path d="M298.6,391.6 L314.5,391.6 L312.8,393.2 L310,394.6 L306.5,395.7 L303,397.1 L299.5,398.1 L296.5,399.4 L295.2,401.8 L293.9,401.3 L294.2,399.2 L293.9,398.2 L296,396Z" fill="#8080f8"/>
<path d="M300,397.6 L303,397 L306,395.9 L303.5,397.6Z" fill="#666" opacity="0.6"/>
</g>
<rect x="72.9" y="651.2" width="11.3" height="5.3" fill="#d0d0d0"/>
<text x="86.5" y="656.5" font-size="7.4" font-weight="bold" fill="#231f20">Nodata</text>
<text x="72.9" y="668.0" font-size="6.9" font-weight="bold" textLength="59.199999999999996" lengthAdjust="spacingAndGlyphs" fill="#231f20">STmin (μg/kg/°C)</text>
<rect x="83.80" y="672.2" width="11.55" height="5.50" fill="#3300ee"/>
<rect x="95.30" y="672.2" width="11.55" height="5.50" fill="#8080f8"/>
<text transform="translate(86.8,686.2) rotate(-45)" font-size="7.2" font-weight="bold" text-anchor="end" fill="#231f20">-0.3</text>
<text transform="translate(98.6,686.2) rotate(-45)" font-size="7.2" font-weight="bold" text-anchor="end" fill="#231f20">-0.2</text>
<text x="30.5" y="503.8" font-size="29" font-weight="bold" fill="#231f20">e</text>
<g transform="translate(316,258.3)">
<use href="#base"/>
<use href="#p_Sichuan" fill="#5bc4d3" stroke="#fff" stroke-width="0.4" stroke-linejoin="round"/>
<use href="#p_Guangxi" fill="#f3dfa9" stroke="#fff" stroke-width="0.4" stroke-linejoin="round"/>
<use href="#p_Hunan" fill="#f3dfa9" stroke="#fff" stroke-width="0.4" stroke-linejoin="round"/>
<use href="#p_Guangdong" fill="#f3dfa9" stroke="#fff" stroke-width="0.4" stroke-linejoin="round"/>
<use href="#p_Hubei" fill="#f3dfa9" stroke="#fff" stroke-width="0.4" stroke-linejoin="round"/>
<use href="#p_Henan" fill="#f3dfa9" stroke="#fff" stroke-width="0.4" stroke-linejoin="round"/>
<use href="#p_Jiangxi" fill="#3d8bc3" stroke="#fff" stroke-width="0.4" stroke-linejoin="round"/>
<use href="#p_Fujian" fill="#5bc4d3" stroke="#fff" stroke-width="0.4" stroke-linejoin="round"/>
<use href="#p_Anhui" fill="#3d8bc3" stroke="#fff" stroke-width="0.4" stroke-linejoin="round"/>
<use href="#p_Jiangsu" fill="#f3dfa9" stroke="#fff" stroke-width="0.4" stroke-linejoin="round"/>
<use href="#p_Shandong" fill="#f3dfa9" stroke="#fff" stroke-width="0.4" stroke-linejoin="round"/>
<use href="#p_Hebei" fill="#f3dfa9" stroke="#fff" stroke-width="0.4" stroke-linejoin="round"/>
<use href="#p_Liaoning" fill="#f3dfa9" stroke="#fff" stroke-width="0.4" stroke-linejoin="round"/>
<use href="#p_Jilin" fill="#f3dfa9" stroke="#fff" stroke-width="0.4" stroke-linejoin="round"/>
<use href="#p_BJTJ" fill="#dfe0df" stroke="#fff" stroke-width="0.45"/>
<text transform="translate(277.7,292.9) scale(1,1.16)" font-size="5.5" font-weight="bold" letter-spacing="-0.18" text-anchor="middle" fill="#111">Jilin</text>
<text transform="translate(265.3,309.3) scale(1,1.16)" font-size="5.5" font-weight="bold" letter-spacing="-0.18" text-anchor="middle" fill="#111">Liaoning</text>
<text transform="translate(239,329.5) scale(1,1.16)" font-size="5.5" font-weight="bold" letter-spacing="-0.18" text-anchor="middle" fill="#111">Hebei</text>
<text transform="translate(248.2,339.4) scale(1,1.16)" font-size="5.5" font-weight="bold" letter-spacing="-0.18" text-anchor="middle" fill="#111">Shandong</text>
<text transform="translate(228.2,355.2) scale(1,1.16)" font-size="5.5" font-weight="bold" letter-spacing="-0.18" text-anchor="middle" fill="#111">Henan</text>
<text transform="translate(259.1,358.2) scale(1,1.16)" font-size="5.5" font-weight="bold" letter-spacing="-0.18" text-anchor="middle" fill="#111">Jiangsu</text>
<text transform="translate(248.2,364.9) scale(1,1.16)" font-size="5.5" font-weight="bold" letter-spacing="-0.18" text-anchor="middle" fill="#111">Anhui</text>
<text transform="translate(226.9,371.3) scale(1,1.16)" font-size="5.5" font-weight="bold" letter-spacing="-0.18" text-anchor="middle" fill="#111">Hubei</text>
<text transform="translate(176.1,375.6) scale(1,1.16)" font-size="5.5" font-weight="bold" letter-spacing="-0.18" text-anchor="middle" fill="#111">Sichuan</text>
<text transform="translate(244.3,383.9) scale(1,1.16)" font-size="5.5" font-weight="bold" letter-spacing="-0.18" text-anchor="middle" fill="#111">Jiangxi</text>
<text transform="translate(221.6,390.3) scale(1,1.16)" font-size="5.5" font-weight="bold" letter-spacing="-0.18" text-anchor="middle" fill="#111">Hunan</text>
<text transform="translate(254.4,397.7) scale(1,1.16)" font-size="5.5" font-weight="bold" letter-spacing="-0.18" text-anchor="middle" fill="#111">Fujian</text>
<text transform="translate(208,413.5) scale(1,1.16)" font-size="5.5" font-weight="bold" letter-spacing="-0.18" text-anchor="middle" fill="#111">Guangxi</text>
<text transform="translate(235.1,414.4) scale(1,1.16)" font-size="5.5" font-weight="bold" letter-spacing="-0.18" text-anchor="middle" fill="#111">Guangdong</text>
<use href="#insetbase"/>
<path d="M284.3,391.6 L298.6,391.6 L296,396 L293.9,398.2 L292.5,398.8 L289,398.5 L286.2,397.8 L284.3,396.6Z" fill="#f3dfa9"/>
<path d="M298.6,391.6 L314.5,391.6 L312.8,393.2 L310,394.6 L306.5,395.7 L303,397.1 L299.5,398.1 L296.5,399.4 L295.2,401.8 L293.9,401.3 L294.2,399.2 L293.9,398.2 L296,396Z" fill="#f3dfa9"/>
<path d="M300,397.6 L303,397 L306,395.9 L303.5,397.6Z" fill="#666" opacity="0.6"/>
</g>
<rect x="388.9" y="648.1" width="11.3" height="5.3" fill="#d0d0d0"/>
<text x="402.5" y="653.4" font-size="7.4" font-weight="bold" fill="#231f20">Nodata</text>
<text x="388.9" y="665.0" font-size="6.9" font-weight="bold" textLength="59.9" lengthAdjust="spacingAndGlyphs" fill="#231f20">SPrc (μg/kg/mm)</text>
<rect x="403.00" y="669.2" width="11.55" height="5.60" fill="#3d8bc3"/>
<rect x="414.50" y="669.2" width="11.55" height="5.60" fill="#5bc4d3"/>
<rect x="426.00" y="669.2" width="11.55" height="5.60" fill="#b5e4ea"/>
<rect x="437.50" y="669.2" width="11.55" height="5.60" fill="#f3dfa9"/>
<text transform="translate(407.1,682.9) rotate(-45)" font-size="7.2" font-weight="bold" text-anchor="end" fill="#231f20">-0.08</text>
<text transform="translate(418.9,682.9) rotate(-45)" font-size="7.2" font-weight="bold" text-anchor="end" fill="#231f20">-0.04</text>
<text transform="translate(430.7,682.9) rotate(-45)" font-size="7.2" font-weight="bold" text-anchor="end" fill="#231f20">-0.02</text>
<text transform="translate(441.9,682.9) rotate(-45)" font-size="7.2" font-weight="bold" text-anchor="end" fill="#231f20">0.04</text>
<text x="335.0" y="503.8" font-size="29" font-weight="bold" fill="#231f20">f</text>
<g transform="translate(0,517)">
<use href="#base"/>
<use href="#p_Sichuan" fill="#b5e4ea" stroke="#fff" stroke-width="0.4" stroke-linejoin="round"/>
<use href="#p_Guangxi" fill="#f3dfa9" stroke="#fff" stroke-width="0.4" stroke-linejoin="round"/>
<use href="#p_Hunan" fill="#eaa433" stroke="#fff" stroke-width="0.4" stroke-linejoin="round"/>
<use href="#p_Guangdong" fill="#f3dfa9" stroke="#fff" stroke-width="0.4" stroke-linejoin="round"/>
<use href="#p_Hubei" fill="#d4901f" stroke="#fff" stroke-width="0.4" stroke-linejoin="round"/>
<use href="#p_Henan" fill="#f3dfa9" stroke="#fff" stroke-width="0.4" stroke-linejoin="round"/>
<use href="#p_Jiangxi" fill="#d4901f" stroke="#fff" stroke-width="0.4" stroke-linejoin="round"/>
<use href="#p_Fujian" fill="#f3dfa9" stroke="#fff" stroke-width="0.4" stroke-linejoin="round"/>
<use href="#p_Anhui" fill="#eaa433" stroke="#fff" stroke-width="0.4" stroke-linejoin="round"/>
<use href="#p_Jiangsu" fill="#b5e4ea" stroke="#fff" stroke-width="0.4" stroke-linejoin="round"/>
<use href="#p_Shandong" fill="#f3dfa9" stroke="#fff" stroke-width="0.4" stroke-linejoin="round"/>
<use href="#p_Hebei" fill="#f3dfa9" stroke="#fff" stroke-width="0.4" stroke-linejoin="round"/>
<use href="#p_Liaoning" fill="#f3dfa9" stroke="#fff" stroke-width="0.4" stroke-linejoin="round"/>
<use href="#p_Jilin" fill="#f3dfa9" stroke="#fff" stroke-width="0.4" stroke-linejoin="round"/>
<use href="#p_BJTJ" fill="#dfe0df" stroke="#fff" stroke-width="0.45"/>
<text transform="translate(277.7,292.9) scale(1,1.16)" font-size="5.5" font-weight="bold" letter-spacing="-0.18" text-anchor="middle" fill="#111">Jilin</text>
<text transform="translate(265.3,309.3) scale(1,1.16)" font-size="5.5" font-weight="bold" letter-spacing="-0.18" text-anchor="middle" fill="#111">Liaoning</text>
<text transform="translate(239,329.5) scale(1,1.16)" font-size="5.5" font-weight="bold" letter-spacing="-0.18" text-anchor="middle" fill="#111">Hebei</text>
<text transform="translate(248.2,339.4) scale(1,1.16)" font-size="5.5" font-weight="bold" letter-spacing="-0.18" text-anchor="middle" fill="#111">Shandong</text>
<text transform="translate(228.2,355.2) scale(1,1.16)" font-size="5.5" font-weight="bold" letter-spacing="-0.18" text-anchor="middle" fill="#111">Henan</text>
<text transform="translate(259.1,358.2) scale(1,1.16)" font-size="5.5" font-weight="bold" letter-spacing="-0.18" text-anchor="middle" fill="#111">Jiangsu</text>
<text transform="translate(248.2,364.9) scale(1,1.16)" font-size="5.5" font-weight="bold" letter-spacing="-0.18" text-anchor="middle" fill="#111">Anhui</text>
<text transform="translate(226.9,371.3) scale(1,1.16)" font-size="5.5" font-weight="bold" letter-spacing="-0.18" text-anchor="middle" fill="#111">Hubei</text>
<text transform="translate(176.1,375.6) scale(1,1.16)" font-size="5.5" font-weight="bold" letter-spacing="-0.18" text-anchor="middle" fill="#111">Sichuan</text>
<text transform="translate(244.3,383.9) scale(1,1.16)" font-size="5.5" font-weight="bold" letter-spacing="-0.18" text-anchor="middle" fill="#111">Jiangxi</text>
<text transform="translate(221.6,390.3) scale(1,1.16)" font-size="5.5" font-weight="bold" letter-spacing="-0.18" text-anchor="middle" fill="#111">Hunan</text>
<text transform="translate(254.4,397.7) scale(1,1.16)" font-size="5.5" font-weight="bold" letter-spacing="-0.18" text-anchor="middle" fill="#111">Fujian</text>
<text transform="translate(208,413.5) scale(1,1.16)" font-size="5.5" font-weight="bold" letter-spacing="-0.18" text-anchor="middle" fill="#111">Guangxi</text>
<text transform="translate(235.1,414.4) scale(1,1.16)" font-size="5.5" font-weight="bold" letter-spacing="-0.18" text-anchor="middle" fill="#111">Guangdong</text>
<use href="#insetbase"/>
<path d="M284.3,391.6 L298.6,391.6 L296,396 L293.9,398.2 L292.5,398.8 L289,398.5 L286.2,397.8 L284.3,396.6Z" fill="#f3dfa9"/>
<path d="M298.6,391.6 L314.5,391.6 L312.8,393.2 L310,394.6 L306.5,395.7 L303,397.1 L299.5,398.1 L296.5,399.4 L295.2,401.8 L293.9,401.3 L294.2,399.2 L293.9,398.2 L296,396Z" fill="#f3dfa9"/>
<path d="M300,397.6 L303,397 L306,395.9 L303.5,397.6Z" fill="#666" opacity="0.6"/>
</g>
<rect x="72.9" y="906.6" width="11.3" height="5.3" fill="#d0d0d0"/>
<text x="86.5" y="911.9" font-size="7.4" font-weight="bold" fill="#231f20">Nodata</text>
<text x="72.9" y="923.6" font-size="6.9" font-weight="bold" textLength="60.5" lengthAdjust="spacingAndGlyphs" fill="#231f20">SEva (μg/kg/mm)</text>
<rect x="86.70" y="927.6" width="11.65" height="5.50" fill="#b5e4ea"/>
<rect x="98.30" y="927.6" width="11.65" height="5.50" fill="#f3dfa9"/>
<rect x="109.90" y="927.6" width="11.65" height="5.50" fill="#eaa433"/>
<rect x="121.50" y="927.6" width="11.65" height="5.50" fill="#d4901f"/>
<text transform="translate(90.8,941.6) rotate(-45)" font-size="7.2" font-weight="bold" text-anchor="end" fill="#231f20">-0.02</text>
<text transform="translate(101.9,941.6) rotate(-45)" font-size="7.2" font-weight="bold" text-anchor="end" fill="#231f20">0.04</text>
<text transform="translate(113.8,941.6) rotate(-45)" font-size="7.2" font-weight="bold" text-anchor="end" fill="#231f20">0.08</text>
<text transform="translate(125.6,941.6) rotate(-45)" font-size="7.2" font-weight="bold" text-anchor="end" fill="#231f20">0.12</text>
<text x="31.3" y="762.3" font-size="29" font-weight="bold" fill="#231f20">g</text>
<g transform="translate(316,517)">
<use href="#base"/>
<use href="#p_Sichuan" fill="#f3dfa9" stroke="#fff" stroke-width="0.4" stroke-linejoin="round"/>
<use href="#p_Guangxi" fill="#eaa433" stroke="#fff" stroke-width="0.4" stroke-linejoin="round"/>
<use href="#p_Hunan" fill="#eaa433" stroke="#fff" stroke-width="0.4" stroke-linejoin="round"/>
<use href="#p_Guangdong" fill="#f3dfa9" stroke="#fff" stroke-width="0.4" stroke-linejoin="round"/>
<use href="#p_Hubei" fill="#eaa433" stroke="#fff" stroke-width="0.4" stroke-linejoin="round"/>
<use href="#p_Henan" fill="#f3dfa9" stroke="#fff" stroke-width="0.4" stroke-linejoin="round"/>
<use href="#p_Jiangxi" fill="#eaa433" stroke="#fff" stroke-width="0.4" stroke-linejoin="round"/>
<use href="#p_Fujian" fill="#eaa433" stroke="#fff" stroke-width="0.4" stroke-linejoin="round"/>
<use href="#p_Anhui" fill="#eaa433" stroke="#fff" stroke-width="0.4" stroke-linejoin="round"/>
<use href="#p_Jiangsu" fill="#f3dfa9" stroke="#fff" stroke-width="0.4" stroke-linejoin="round"/>
<use href="#p_Shandong" fill="#f3dfa9" stroke="#fff" stroke-width="0.4" stroke-linejoin="round"/>
<use href="#p_Hebei" fill="#f3dfa9" stroke="#fff" stroke-width="0.4" stroke-linejoin="round"/>
<use href="#p_Liaoning" fill="#f3dfa9" stroke="#fff" stroke-width="0.4" stroke-linejoin="round"/>
<use href="#p_Jilin" fill="#f3dfa9" stroke="#fff" stroke-width="0.4" stroke-linejoin="round"/>
<use href="#p_BJTJ" fill="#dfe0df" stroke="#fff" stroke-width="0.45"/>
<text transform="translate(277.7,292.9) scale(1,1.16)" font-size="5.5" font-weight="bold" letter-spacing="-0.18" text-anchor="middle" fill="#111">Jilin</text>
<text transform="translate(265.3,309.3) scale(1,1.16)" font-size="5.5" font-weight="bold" letter-spacing="-0.18" text-anchor="middle" fill="#111">Liaoning</text>
<text transform="translate(239,329.5) scale(1,1.16)" font-size="5.5" font-weight="bold" letter-spacing="-0.18" text-anchor="middle" fill="#111">Hebei</text>
<text transform="translate(248.2,339.4) scale(1,1.16)" font-size="5.5" font-weight="bold" letter-spacing="-0.18" text-anchor="middle" fill="#111">Shandong</text>
<text transform="translate(228.2,355.2) scale(1,1.16)" font-size="5.5" font-weight="bold" letter-spacing="-0.18" text-anchor="middle" fill="#111">Henan</text>
<text transform="translate(259.1,358.2) scale(1,1.16)" font-size="5.5" font-weight="bold" letter-spacing="-0.18" text-anchor="middle" fill="#111">Jiangsu</text>
<text transform="translate(248.2,364.9) scale(1,1.16)" font-size="5.5" font-weight="bold" letter-spacing="-0.18" text-anchor="middle" fill="#111">Anhui</text>
<text transform="translate(226.9,371.3) scale(1,1.16)" font-size="5.5" font-weight="bold" letter-spacing="-0.18" text-anchor="middle" fill="#111">Hubei</text>
<text transform="translate(176.1,375.6) scale(1,1.16)" font-size="5.5" font-weight="bold" letter-spacing="-0.18" text-anchor="middle" fill="#111">Sichuan</text>
<text transform="translate(244.3,383.9) scale(1,1.16)" font-size="5.5" font-weight="bold" letter-spacing="-0.18" text-anchor="middle" fill="#111">Jiangxi</text>
<text transform="translate(221.6,390.3) scale(1,1.16)" font-size="5.5" font-weight="bold" letter-spacing="-0.18" text-anchor="middle" fill="#111">Hunan</text>
<text transform="translate(254.4,397.7) scale(1,1.16)" font-size="5.5" font-weight="bold" letter-spacing="-0.18" text-anchor="middle" fill="#111">Fujian</text>
<text transform="translate(208,413.5) scale(1,1.16)" font-size="5.5" font-weight="bold" letter-spacing="-0.18" text-anchor="middle" fill="#111">Guangxi</text>
<text transform="translate(235.1,414.4) scale(1,1.16)" font-size="5.5" font-weight="bold" letter-spacing="-0.18" text-anchor="middle" fill="#111">Guangdong</text>
<use href="#insetbase"/>
<path d="M284.3,391.6 L298.6,391.6 L296,396 L293.9,398.2 L292.5,398.8 L289,398.5 L286.2,397.8 L284.3,396.6Z" fill="#eaa433"/>
<path d="M298.6,391.6 L314.5,391.6 L312.8,393.2 L310,394.6 L306.5,395.7 L303,397.1 L299.5,398.1 L296.5,399.4 L295.2,401.8 L293.9,401.3 L294.2,399.2 L293.9,398.2 L296,396Z" fill="#f3dfa9"/>
<path d="M300,397.6 L303,397 L306,395.9 L303.5,397.6Z" fill="#666" opacity="0.6"/>
</g>
<rect x="388.9" y="912.5" width="11.3" height="5.3" fill="#d0d0d0"/>
<text x="402.5" y="917.8" font-size="7.4" font-weight="bold" fill="#231f20">Nodata</text>
<text x="388.9" y="929.2" font-size="6.9" font-weight="bold" textLength="59.5" lengthAdjust="spacingAndGlyphs" fill="#231f20">SWs (μg/kg/m/s)</text>
<rect x="397.30" y="933.2" width="11.65" height="5.60" fill="#f3dfa9"/>
<rect x="408.90" y="933.2" width="11.65" height="5.60" fill="#eaa433"/>
<text transform="translate(401.8,946.9) rotate(-45)" font-size="7.2" font-weight="bold" text-anchor="end" fill="#231f20">0.4</text>
<text transform="translate(413.0,946.9) rotate(-45)" font-size="7.2" font-weight="bold" text-anchor="end" fill="#231f20">0.5</text>
<text x="335.0" y="763.0" font-size="29" font-weight="bold" fill="#231f20">h</text>
</svg></body></html>
